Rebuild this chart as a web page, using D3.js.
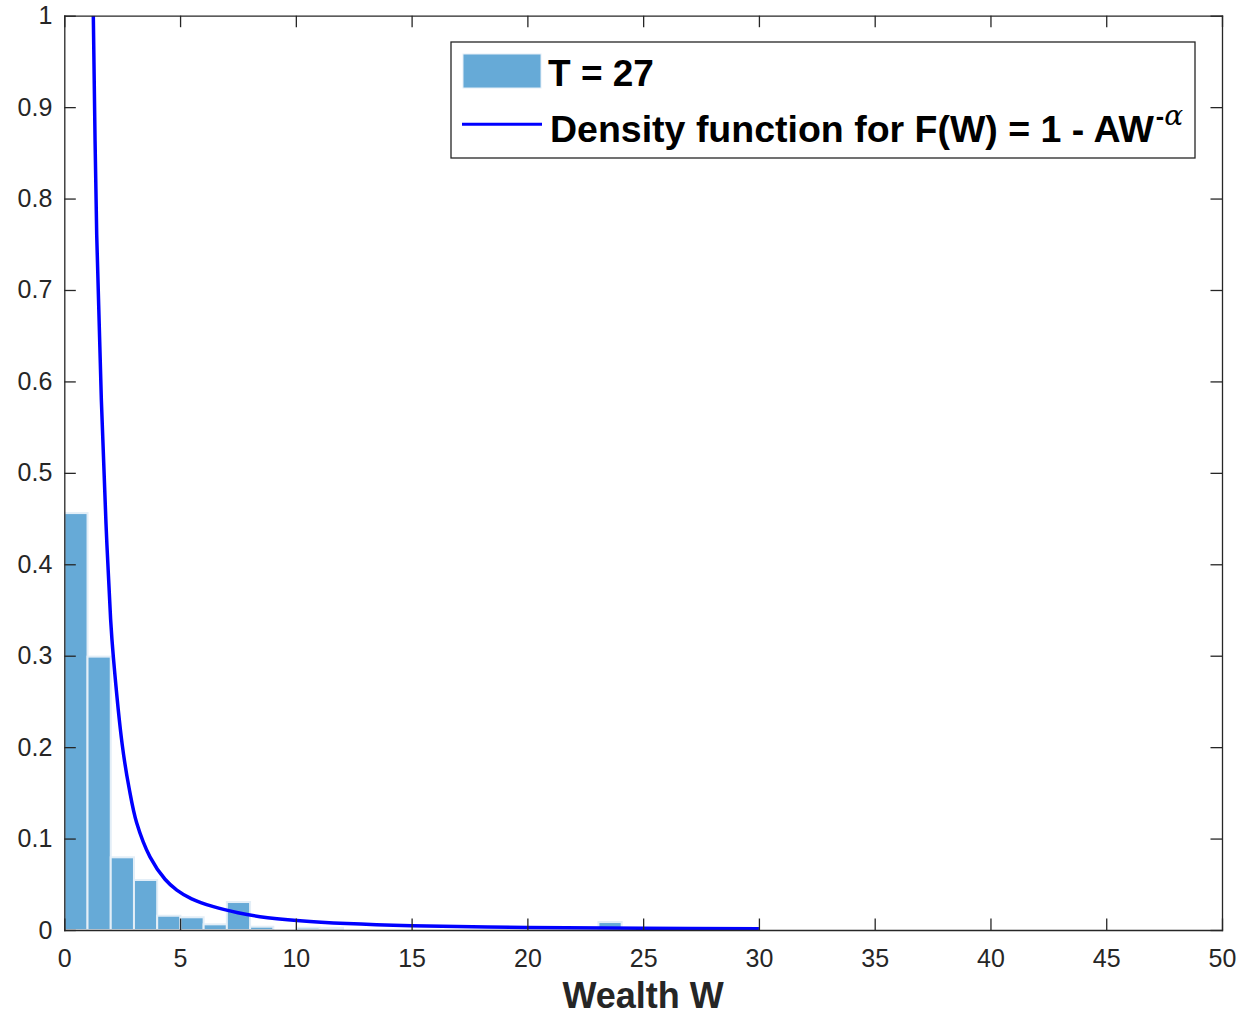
<!DOCTYPE html>
<html>
<head>
<meta charset="utf-8">
<script src="https://cdn.jsdelivr.net/npm/d3@7"></script>
<style>
  body { margin: 0; background: #fff; }
  text { font-family: "Liberation Sans", Arial, Helvetica, sans-serif; }
</style>
</head>
<body>
<div id="chart"></div>
<script>
// histogram (pdf-normalised), bins start at 0
var binWidth = 1.003;
var binHeights = [0.456, 0.299, 0.0795, 0.0547, 0.0156, 0.0139, 0.0062, 0.0306, 0.0036, 0,
                  0.0025, 0.002, 0, 0, 0, 0, 0, 0, 0, 0,
                  0, 0, 0, 0.0087];

// density curve
var curveW = [1.253, 1.40, 1.60, 1.80, 2.0, 2.117, 2.5, 2.8, 3.128, 3.70,
              4.35, 4.86, 5.5, 6.44, 7.5, 8.45, 10.18, 12.2, 15, 20,
              25, 30];
var curveF = [1.0, 0.76, 0.58, 0.445, 0.34, 0.299, 0.203, 0.155, 0.117, 0.080,
              0.0555, 0.0437, 0.0341, 0.0255, 0.0188, 0.0146, 0.0102, 0.0071, 0.0047, 0.0028,
              0.0019, 0.0014];

var xTicks = d3.range(0, 51, 5);
var yTicks = [0, 0.1, 0.2, 0.3, 0.4, 0.5, 0.6, 0.7, 0.8, 0.9, 1];
var xLabel = "Wealth W";
var legendLabels = ["T = 27", "Density function for F(W) = 1 - AW"];

var width = 1245;
var height = 1019;
var plotLeft = 64.3, plotRight = 1222, plotTop = 15.7, plotBottom = 930;
var axisColor = "#262626";
var barColor = "#66aad7";
var lineColor = "#0000ff";
var tickLen = 11.5;

var x = d3.scaleLinear().domain([0, 50]).range([plotLeft, plotRight]);
var y = d3.scaleLinear().domain([0, 1]).range([plotBottom, plotTop]);

var svg = d3.select("#chart")
  .append("svg")
  .attr("width", width)
  .attr("height", height);

svg.append("defs").append("clipPath")
  .attr("id", "plotClip")
  .append("rect")
  .attr("x", plotLeft).attr("y", plotTop)
  .attr("width", plotRight - plotLeft).attr("height", plotBottom - plotTop);

/* bars */
svg.append("g")
  .attr("clip-path", "url(#plotClip)")
  .selectAll("rect")
  .data(binHeights.map((h, i) => ({ i: i, h: h })).filter(d => d.h > 0))
  .enter()
  .append("rect")
  .attr("x", d => x(d.i * binWidth))
  .attr("width", d => x((d.i + 1) * binWidth) - x(d.i * binWidth))
  .attr("y", d => y(d.h))
  .attr("height", d => y(0) - y(d.h))
  .attr("fill", barColor)
  .attr("stroke", "#e3eef7")
  .attr("stroke-width", 2);

/* density line */
var line = d3.line()
  .x(d => x(d[0]))
  .y(d => y(d[1]))
  .curve(d3.curveCatmullRom.alpha(0.5));

svg.append("path")
  .attr("clip-path", "url(#plotClip)")
  .datum(curveW.map((w, i) => [w, curveF[i]]))
  .attr("d", line)
  .attr("fill", "none")
  .attr("stroke", lineColor)
  .attr("stroke-width", 3.5);

/* axes: box with inward ticks on all sides */
function styleAxis(g) {
  g.selectAll("path").attr("stroke", axisColor).attr("stroke-width", 1.3);
  g.selectAll("line").attr("stroke", axisColor).attr("stroke-width", 1.3);
  g.selectAll("text")
    .attr("fill", axisColor)
    .style("font-size", "25px")
    .attr("font-family", null);
}

svg.append("g")
  .attr("transform", `translate(0, ${plotBottom})`)
  .call(d3.axisBottom(x).tickValues(xTicks).tickSizeInner(-tickLen).tickSizeOuter(0)
    .tickPadding(19).tickFormat(d3.format("d")))
  .call(styleAxis);

svg.append("g")
  .attr("transform", `translate(0, ${plotTop})`)
  .call(d3.axisTop(x).tickValues(xTicks).tickSizeInner(-tickLen).tickSizeOuter(0).tickFormat(""))
  .call(styleAxis);

svg.append("g")
  .attr("transform", `translate(${plotLeft}, 0)`)
  .call(d3.axisLeft(y).tickValues(yTicks).tickSizeInner(-tickLen).tickSizeOuter(0)
    .tickPadding(12).tickFormat(d => d3.format("~g")(d)))
  .call(styleAxis);

svg.append("g")
  .attr("transform", `translate(${plotRight}, 0)`)
  .call(d3.axisRight(y).tickValues(yTicks).tickSizeInner(-tickLen).tickSizeOuter(0).tickFormat(""))
  .call(styleAxis);

svg.selectAll(".domain").attr("stroke-linecap", "square");

/* x label */
svg.append("text")
  .attr("x", (plotLeft + plotRight) / 2)
  .attr("y", 1008)
  .attr("text-anchor", "middle")
  .attr("fill", axisColor)
  .style("font-size", "36px")
  .style("font-weight", "bold")
  .text(xLabel);

/* legend */
var legend = svg.append("g").attr("class", "legend");

legend.append("rect")
  .attr("x", 451).attr("y", 42)
  .attr("width", 744).attr("height", 116)
  .attr("fill", "#fff")
  .attr("stroke", axisColor)
  .attr("stroke-width", 1.3);

legend.append("rect")
  .attr("x", 463).attr("y", 54)
  .attr("width", 78).attr("height", 34)
  .attr("fill", barColor)
  .attr("stroke", "#e3eef7")
  .attr("stroke-width", 1);

legend.append("line")
  .attr("x1", 462).attr("x2", 542)
  .attr("y1", 124.3).attr("y2", 124.3)
  .attr("stroke", lineColor)
  .attr("stroke-width", 3);

legend.append("text")
  .attr("x", 548).attr("y", 86)
  .attr("fill", "#000")
  .style("font-size", "37px")
  .style("font-weight", "bold")
  .text(legendLabels[0]);

var t2 = legend.append("text")
  .attr("x", 550).attr("y", 142)
  .attr("fill", "#000")
  .style("font-size", "37.5px")
  .style("font-weight", "bold");
t2.append("tspan").text(legendLabels[1]);
t2.append("tspan")
  .attr("dx", 2)
  .attr("dy", -17)
  .style("font-size", "25px")
  .text("-");
t2.append("tspan")
  .style("font-size", "28px")
  .style("font-weight", "normal")
  .style("font-style", "italic")
  .style("font-family", "'DejaVu Serif', 'Liberation Serif', serif")
  .text("α");
</script>
</body>
</html>
